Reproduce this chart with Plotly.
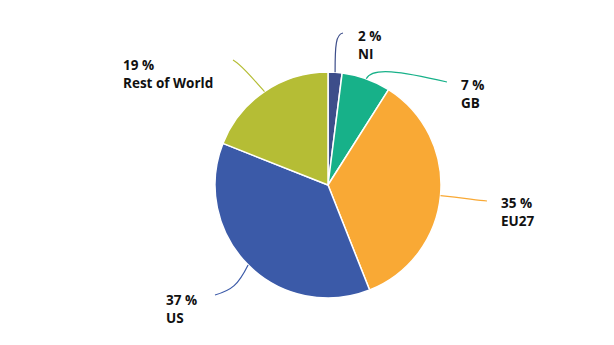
import math
import plotly.graph_objects as go

labels = ["NI", "GB", "EU27", "US", "Rest of World"]
values = [2, 7, 35, 37, 19]
colors = ["#3d4e8a", "#17b189", "#f9a935", "#3b5aa8", "#b5bd35"]

W, H = 614, 345
CX, CY, R = 328, 185, 113

# label text anchor (left x, center y of two-line block)
label_pos = {
    "NI": (356, 45),
    "GB": (459, 94),
    "EU27": (499, 212),
    "US": (164, 309),
    "Rest of World": (121, 74),
}
line_end = {
    "NI": [(335, 45), (336, 34), (343, 33)],
    "GB": [(372, 67), (400, 71), (447, 82)],
    "EU27": [(465, 198), (475, 200), (487, 201)],
    "US": [(238, 285), (232, 290), (215, 295)],
    "Rest of World": [(252, 78), (242, 65), (233, 60)],
}

def px(x, y):
    return x / W, 1 - y / H

fig = go.Figure(go.Pie(
    labels=labels, values=values, sort=False, direction="clockwise", rotation=0,
    marker=dict(colors=colors, line=dict(color="white", width=1.5)),
    textinfo="none", hoverinfo="label+percent", showlegend=False,
    domain=dict(x=[(CX - R) / W, (CX + R) / W], y=[(H - CY - R) / H, (H - CY + R) / H]),
))

total = sum(values)
cum = 0
shapes = []
annotations = []
for lab, val, col in zip(labels, values, colors):
    mid = (cum + val / 2) / total * 2 * math.pi
    cum += val
    sx = CX + R * math.sin(mid)
    sy = CY - R * math.cos(mid)
    (c1x, c1y), (c2x, c2y), (ex, ey) = line_end[lab]
    p0 = px(sx, sy); p1 = px(c1x, c1y); p2 = px(c2x, c2y); p3 = px(ex, ey)
    path = f"M {p0[0]},{p0[1]} C {p1[0]},{p1[1]} {p2[0]},{p2[1]} {p3[0]},{p3[1]}"
    shapes.append(dict(type="path", path=path, xref="paper", yref="paper",
                       line=dict(color=col, width=1.2)))
    lx, ly = label_pos[lab]
    ax_, ay_ = px(lx, ly)
    annotations.append(dict(
        x=ax_, y=ay_, xref="paper", yref="paper", xanchor="left", yanchor="middle",
        align="left", showarrow=False,
        text=f"<b>{round(val / total * 100)} %<br>{lab}</b>",
        font=dict(family="Open Sans", size=13.5, color="#111111"),
    ))

fig.update_layout(
    width=W, height=H, autosize=False,
    margin=dict(l=0, r=0, t=0, b=0),
    paper_bgcolor="white", plot_bgcolor="white",
    shapes=shapes, annotations=annotations,
)
fig.write_html("out.html")
